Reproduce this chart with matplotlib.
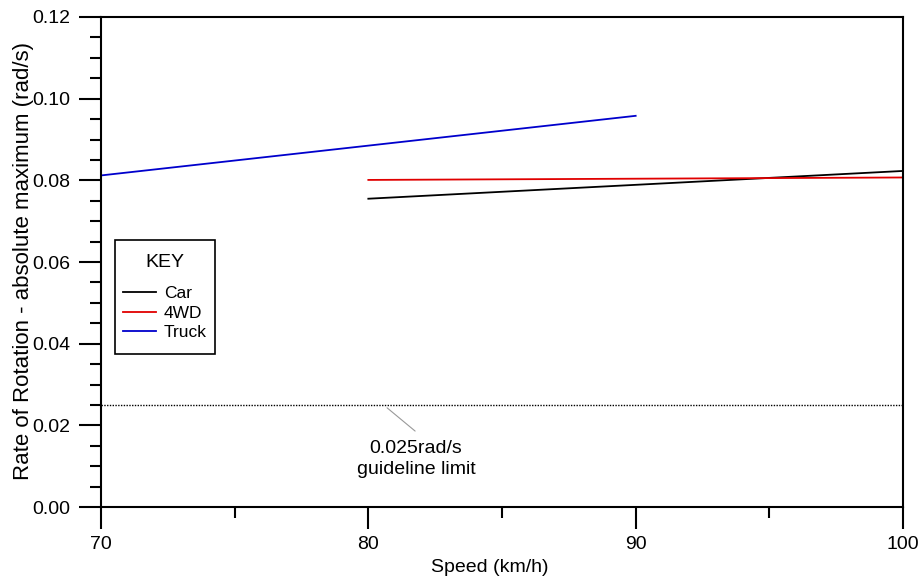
import matplotlib
matplotlib.use("Agg")
import matplotlib.pyplot as plt
from matplotlib.ticker import MultipleLocator, FormatStrFormatter
from matplotlib.path import Path

plt.rcParams['font.family'] = ['Liberation Sans', 'DejaVu Sans']

speed_car = [80, 100]
rot_car = [0.0755, 0.0823]
speed_4wd = [80, 100]
rot_4wd = [0.0801, 0.0807]
speed_truck = [70, 90]
rot_truck = [0.0812, 0.0958]
guideline = 0.025

fig = plt.figure(figsize=(9.2, 5.84), dpi=100)
ax = fig.add_axes([0.1098, 0.1318, 0.8717, 0.8391])

ax.plot(speed_car, rot_car, color='black', lw=1.3, label='Car')
ax.plot(speed_4wd, rot_4wd, color='#e00000', lw=1.3, label='4WD')
ax.plot(speed_truck, rot_truck, color='#0000cc', lw=1.3, label='Truck')
ax.axhline(guideline, color='black', lw=1.0, ls=(0, (1, 1)))

# leader line + label for the guideline
ax.annotate('', xy=(80.7, 0.0243), xytext=(81.75, 0.0186),
            arrowprops=dict(arrowstyle='-', color='#999999', lw=0.8, shrinkA=0, shrinkB=0))
ax.text(81.78, 0.0118, '0.025rad/s\nguideline limit', ha='center', va='center',
        fontsize=14, linespacing=1.35)

ax.set_xlim(70, 100)
ax.set_ylim(0, 0.12)
ax.xaxis.set_major_locator(MultipleLocator(10))
ax.xaxis.set_minor_locator(MultipleLocator(5))
ax.yaxis.set_major_locator(MultipleLocator(0.02))
ax.yaxis.set_minor_locator(MultipleLocator(0.005))
ax.yaxis.set_major_formatter(FormatStrFormatter('%.2f'))
ax.tick_params(which='major', length=16, width=1.5, labelsize=14)
ax.tick_params(which='minor', length=8, width=1.5)
ax.tick_params(axis='y', which='major', pad=6)
ax.tick_params(axis='x', which='major', pad=5)
for s in ax.spines.values():
    s.set_linewidth(1.5)

ax.set_xlabel('Speed (km/h)', fontsize=14)
ax.xaxis.set_label_coords(0.485, -0.106)
ax.set_ylabel('Rate of Rotation - absolute maximum (rad/s)', fontsize=16)
ax.yaxis.set_label_coords(-0.083, 0.502)


def key_box(x0, y0, width, height, mutation_scale):
    # plain square frame, taller than the legend content
    dy = 0.35 * mutation_scale
    return Path([(x0, y0 - dy), (x0 + width, y0 - dy), (x0 + width, y0 + height + dy),
                 (x0, y0 + height + dy), (x0, y0 - dy)], closed=True)


leg = ax.legend(title='KEY', loc='upper left', bbox_to_anchor=(0.0175, 0.5327), fontsize=12.5,
                title_fontsize=14, edgecolor='black', framealpha=1, handlelength=1.9,
                handletextpad=0.45, borderpad=0.46, labelspacing=0.25, borderaxespad=0)
leg._legend_box.sep = 11
leg.get_frame().set_boxstyle(key_box)
leg.get_frame().set_linewidth(1.2)

fig.savefig('out.png', dpi=100)
